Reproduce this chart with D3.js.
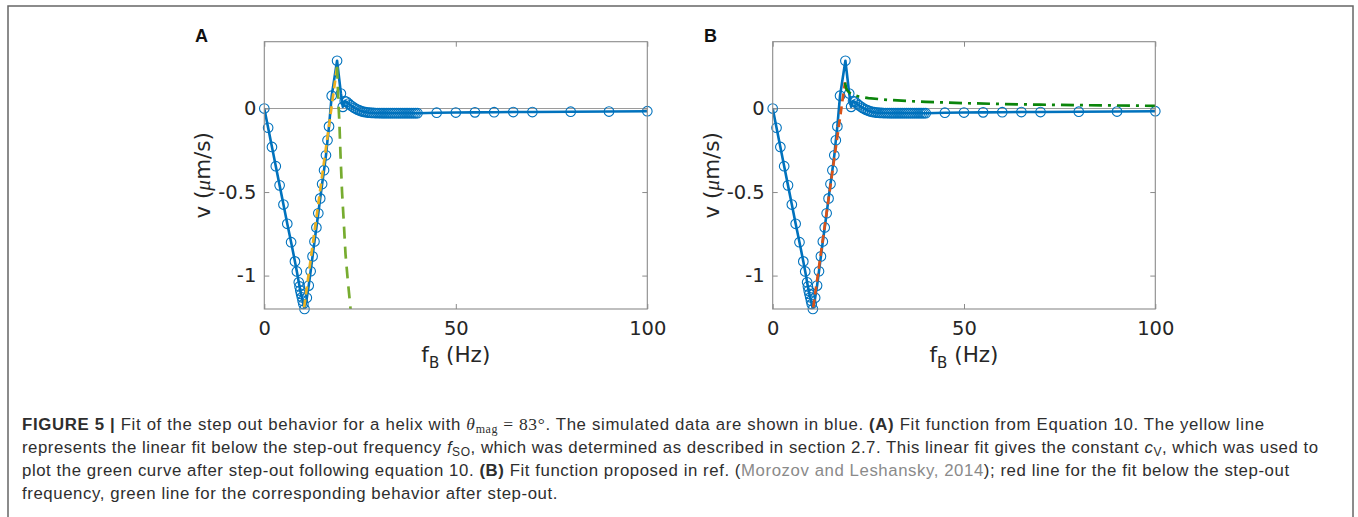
<!DOCTYPE html>
<html>
<head>
<meta charset="utf-8">
<script src="https://cdn.jsdelivr.net/npm/d3@7"></script>
<style>
  html, body { margin: 0; padding: 0; background: #fff; }
  svg { display: block; }
  .tick text { font-family: "DejaVu Sans", sans-serif; font-size: 19.5px; fill: #262626; }
  .caption { font-family: "Liberation Sans", Arial, sans-serif; font-size: 16.8px; fill: #2e2e2e; }
</style>
</head>
<body>
<svg id="fig" width="1358" height="517"></svg>
<script>
// simulated velocity vs. rotation frequency (blue circles), same in A and B
const freqHz = [0, 1, 2, 3, 4, 5, 6, 7, 8, 8.5, 9, 9.2, 9.4, 9.6, 9.8, 10, 10.2, 10.5,
    11.1, 11.6, 12.1, 12.6, 13.1, 13.6, 14.1, 14.6, 15.1, 15.6, 16.1, 16.5, 16.9, 17.6, 19.0,
    20.0, 20.5, 21.0, 21.5, 22.0, 22.5, 23.0, 23.5, 24.0, 24.5, 25.0, 25.5, 26.0, 26.5, 27.0,
    27.5, 28.0, 28.5, 29.0, 29.5, 30.0, 30.5, 31.0, 31.5, 32.0, 32.5, 33.0, 33.5, 34.0,
    34.5, 35.0, 35.5, 36.0, 36.5, 37.0, 37.5, 38.0, 38.5, 39.0, 39.5, 40.0,
    45, 50, 55, 60, 65, 70, 80, 90, 100];
const velocity = [0, -0.115, -0.23, -0.345, -0.46, -0.575, -0.69, -0.80, -0.915, -0.975, -1.04, -1.065, -1.09, -1.11, -1.13, -1.15, -1.17, -1.20,
    -1.133, -1.06, -0.974, -0.885, -0.796, -0.712, -0.627, -0.538, -0.452, -0.369, -0.28, -0.19, -0.107, 0.077, 0.286,
    0.09, 0.01, 0.045, 0.04, 0.03, 0.02, 0.012, 0.004, -0.003, -0.008, -0.013, -0.017, -0.02, -0.022, -0.024,
    -0.025, -0.026, -0.026, -0.027, -0.027, -0.027, -0.028, -0.028, -0.028, -0.028, -0.028, -0.028, -0.028, -0.028,
    -0.028, -0.028, -0.028, -0.028, -0.028, -0.028, -0.028, -0.028, -0.028, -0.028, -0.028, -0.028,
    -0.025, -0.024, -0.023, -0.022, -0.021, -0.021, -0.019, -0.018, -0.016];

// (A) linear fit below step-out (yellow) and eq. 10 after step-out (green)
const linFitAF = [10.4, 19.0];
const linFitAV = [-1.19, 0.25];
const stepOutAF = [19.0, 19.2, 19.4, 19.6, 19.9, 20.3, 20.8, 21.2, 21.8, 22.4, 22.6];
const stepOutAV = [0.25, 0.12, 0.01, -0.08, -0.28, -0.5, -0.7, -0.87, -1.03, -1.17, -1.22];

// (B) Morozov & Leshansky fit: red below, green after step-out
const linFitBF = [10.6, 18.9];
const linFitBV = [-1.19, 0.157];
const stepOutBF = [18.9, 19.2, 19.6, 20.2, 21, 22.5, 25, 30, 35, 40, 50, 60, 70, 80, 90, 100];
const stepOutBV = [0.155, 0.12, 0.105, 0.092, 0.082, 0.072, 0.062, 0.052, 0.045, 0.040, 0.032, 0.027, 0.023, 0.020, 0.018, 0.016];

const xTicks = [0, 50, 100];
const yTicks = [-1, -0.5, 0];

const svg = d3.select("#fig");
const BLUE = "#0072BD";

// outer figure frame
svg.append("rect")
    .attr("x", 8).attr("y", 6)
    .attr("width", 1345).attr("height", 540)
    .attr("fill", "none").attr("stroke", "#666").attr("stroke-width", 1.5);

const axTop = 41.7, axBottom = 309;

const panels = [
    { name: "A", left: 264.3, right: 647.3, labelX: 195,
      fit: { f: linFitAF, v: linFitAV, color: "#EDB120", dash: "8,5" },
      after: { f: stepOutAF, v: stepOutAV, color: "#77AC30", dash: "12,8" } },
    { name: "B", left: 772.7, right: 1155.3, labelX: 704,
      fit: { f: linFitBF, v: linFitBV, color: "#D95319", dash: "8,5" },
      after: { f: stepOutBF, v: stepOutBV, color: "#0b850b", dash: "13,6,3,6" } }
];

panels.forEach(p => {
    const x = d3.scaleLinear().domain([0, 100]).range([p.left, p.right]);
    const y = d3.scaleLinear().domain([-1.2, 0.4]).range([axBottom, axTop]);
    const g = svg.append("g");

    const clipId = "clip" + p.name;
    svg.append("clipPath").attr("id", clipId)
        .append("rect")
        .attr("x", p.left).attr("y", axTop)
        .attr("width", p.right - p.left).attr("height", axBottom - axTop);

    // zero line
    g.append("line")
        .attr("x1", x(0)).attr("x2", x(100))
        .attr("y1", y(0)).attr("y2", y(0))
        .attr("stroke", "#9a9a9a").attr("stroke-width", 1);

    const line = d3.line().x(d => x(d[0])).y(d => y(d[1]));
    const pts = freqHz.map((f, i) => [f, velocity[i]]);

    g.append("path")
        .attr("d", line(pts))
        .attr("clip-path", `url(#${clipId})`)
        .attr("fill", "none").attr("stroke", BLUE).attr("stroke-width", 2.6)
        .attr("stroke-linejoin", "round");

    g.selectAll("circle.pt")
        .data(pts)
        .enter()
        .append("circle")
        .attr("class", "pt")
        .attr("cx", d => x(d[0]))
        .attr("cy", d => y(d[1]))
        .attr("r", 4.8)
        .attr("fill", "none")
        .attr("stroke", BLUE)
        .attr("stroke-width", 1.1);

    [p.fit, p.after].forEach(s => {
        g.append("path")
            .attr("d", line(s.f.map((f, i) => [f, s.v[i]])))
            .attr("clip-path", `url(#${clipId})`)
            .attr("fill", "none")
            .attr("stroke", s.color)
            .attr("stroke-width", 2.7)
            .attr("stroke-dasharray", s.dash);
    });

    // box
    g.append("rect")
        .attr("x", p.left).attr("y", axTop)
        .attr("width", p.right - p.left).attr("height", axBottom - axTop)
        .attr("fill", "none").attr("stroke", "#8a8a8a").attr("stroke-width", 1.1);

    const fmt = d => String(d);

    const xAxis = g.append("g")
        .attr("transform", `translate(0,${axBottom})`)
        .call(d3.axisBottom(x).tickValues(xTicks).tickFormat(fmt).tickSizeInner(-5).tickSizeOuter(0).tickPadding(12));
    const yAxis = g.append("g")
        .attr("transform", `translate(${p.left},0)`)
        .call(d3.axisLeft(y).tickValues(yTicks).tickFormat(fmt).tickSizeInner(-5).tickSizeOuter(0).tickPadding(8));
    const xTop = g.append("g")
        .attr("transform", `translate(0,${axTop})`)
        .call(d3.axisTop(x).tickValues(xTicks).tickFormat("").tickSizeInner(-5).tickSizeOuter(0));
    const yRight = g.append("g")
        .attr("transform", `translate(${p.right},0)`)
        .call(d3.axisRight(y).tickValues(yTicks).tickFormat("").tickSizeInner(-5).tickSizeOuter(0));

    [xAxis, yAxis, xTop, yRight].forEach(a => {
        a.select(".domain").remove();
        a.selectAll(".tick line").attr("stroke", "#8a8a8a");
        a.attr("font-size", null).attr("font-family", null);
    });

    // axis labels
    const xl = g.append("text")
        .attr("x", (p.left + p.right) / 2).attr("y", 362)
        .attr("text-anchor", "middle")
        .attr("font-family", "DejaVu Sans, sans-serif").attr("font-size", 21.5).attr("fill", "#262626");
    xl.append("tspan").text("f");
    xl.append("tspan").attr("dy", 6).attr("font-size", 15).text("B");
    xl.append("tspan").attr("dy", -6).text(" (Hz)");

    const yl = g.append("text")
        .attr("transform", `translate(${p.left - 54},${(axTop + axBottom) / 2}) rotate(-90)`)
        .attr("text-anchor", "middle")
        .attr("font-family", "DejaVu Sans, sans-serif").attr("font-size", 21.5).attr("fill", "#262626");
    yl.append("tspan").text("v (");
    yl.append("tspan").attr("font-family", "Liberation Serif, serif").attr("font-style", "italic").text("\u03bc");
    yl.append("tspan").text("m/s)");

    // panel letter
    g.append("text")
        .attr("x", p.labelX).attr("y", 42)
        .attr("font-family", "Liberation Sans, Arial, sans-serif")
        .attr("font-weight", "bold").attr("font-size", 18).attr("fill", "#111")
        .text(p.name);
});

// caption
const capX = 22;
const capLines = [
    { y: 430, target: 1264, parts: [
        { t: "FIGURE 5 |", b: 1 }, { t: " Fit of the step out behavior for a helix with " },
        { t: "\u03b8", it: 1, serif: 1 }, { t: "mag", sub: 1, serif: 1 }, { t: " = 83\u00b0", serif: 1 },
        { t: ". The simulated data are shown in blue. " }, { t: "(A)", b: 1 },
        { t: " Fit function from Equation 10. The yellow line" }] },
    { y: 453, target: 1318, parts: [
        { t: "represents the linear fit below the step-out frequency " }, { t: "f", it: 1 },
        { t: "SO", sub: 1 }, { t: ", which was determined as described in section 2.7. This linear fit gives the constant " },
        { t: "c", it: 1 }, { t: "V", sub: 1 }, { t: ", which was used to" }] },
    { y: 476, target: 1289, parts: [
        { t: "plot the green curve after step-out following equation 10. " }, { t: "(B)", b: 1 },
        { t: " Fit function proposed in ref. (" }, { t: "Morozov and Leshansky, 2014", grey: 1 },
        { t: "); red line for the fit below the step-out" }] },
    { y: 499, target: null, parts: [
        { t: "frequency, green line for the corresponding behavior after step-out." }] }
];

const spacings = [];
const capNodes = capLines.map(l => {
    const t = svg.append("text").attr("class", "caption").attr("x", capX).attr("y", l.y);
    l.parts.forEach(pt => {
        const s = t.append("tspan").text(pt.t);
        if (pt.b) s.attr("font-weight", "bold");
        if (pt.it) s.attr("font-style", "italic");
        if (pt.serif) s.attr("font-family", "Liberation Serif, serif").attr("font-size", 17.5);
        if (pt.grey) s.attr("fill", "#8a8a8a");
        if (pt.sub) s.attr("baseline-shift", "-3").attr("font-size", 12);
    });
    return t;
});

capLines.forEach((l, i) => {
    if (!l.target) return;
    const node = capNodes[i].node();
    const w = node.getComputedTextLength();
    const n = node.getNumberOfChars();
    const ls = (l.target - capX - w) / (n - 1);
    spacings.push(ls);
    capNodes[i].style("letter-spacing", ls + "px");
});
const meanLs = d3.mean(spacings);
capLines.forEach((l, i) => {
    if (!l.target) capNodes[i].style("letter-spacing", meanLs + "px");
});
</script>
</body>
</html>
